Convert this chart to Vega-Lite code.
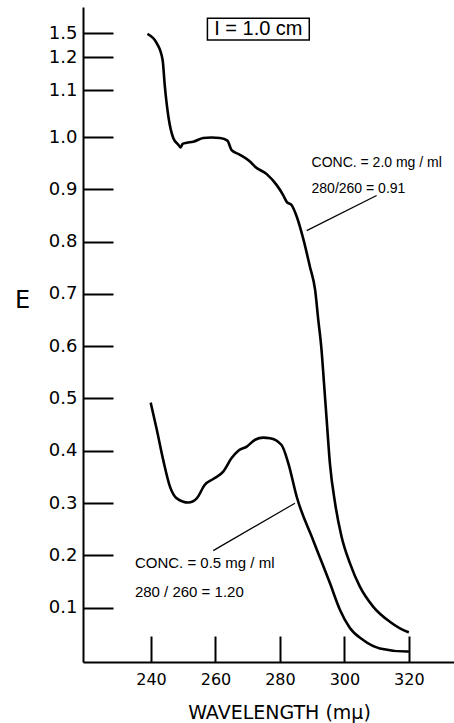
{
  "$schema": "https://vega.github.io/schema/vega-lite/v6.json",
  "width": 371,
  "height": 655,
  "autosize": {"type": "none"},
  "padding": {"left": 83, "top": 7, "right": 0, "bottom": 61},
  "background": "white",
  "config": {"view": {"stroke": null}, "font": "Liberation Sans"},
  "datasets": {
    "curves": [
      {"series": "2.0", "wl": 238.9, "E": 1.49},
      {"series": "2.0", "wl": 241.8, "E": 1.371},
      {"series": "2.0", "wl": 243.6, "E": 1.191},
      {"series": "2.0", "wl": 244.3, "E": 1.11},
      {"series": "2.0", "wl": 245.4, "E": 1.043},
      {"series": "2.0", "wl": 246.9, "E": 0.998},
      {"series": "2.0", "wl": 248.5, "E": 0.985},
      {"series": "2.0", "wl": 249.2, "E": 0.98},
      {"series": "2.0", "wl": 249.8, "E": 0.987},
      {"series": "2.0", "wl": 251.1, "E": 0.989},
      {"series": "2.0", "wl": 253.1, "E": 0.991},
      {"series": "2.0", "wl": 256.2, "E": 0.998},
      {"series": "2.0", "wl": 258.8, "E": 0.999},
      {"series": "2.0", "wl": 261.4, "E": 0.998},
      {"series": "2.0", "wl": 263.7, "E": 0.993},
      {"series": "2.0", "wl": 265.0, "E": 0.975},
      {"series": "2.0", "wl": 267.6, "E": 0.966},
      {"series": "2.0", "wl": 270.7, "E": 0.953},
      {"series": "2.0", "wl": 272.3, "E": 0.943},
      {"series": "2.0", "wl": 275.9, "E": 0.929},
      {"series": "2.0", "wl": 279.0, "E": 0.908},
      {"series": "2.0", "wl": 281.0, "E": 0.889},
      {"series": "2.0", "wl": 282.1, "E": 0.876},
      {"series": "2.0", "wl": 283.6, "E": 0.87},
      {"series": "2.0", "wl": 285.2, "E": 0.848},
      {"series": "2.0", "wl": 287.2, "E": 0.806},
      {"series": "2.0", "wl": 289.3, "E": 0.752},
      {"series": "2.0", "wl": 290.9, "E": 0.708},
      {"series": "2.0", "wl": 291.9, "E": 0.65},
      {"series": "2.0", "wl": 292.9, "E": 0.593},
      {"series": "2.0", "wl": 293.6, "E": 0.535},
      {"series": "2.0", "wl": 294.5, "E": 0.459},
      {"series": "2.0", "wl": 295.5, "E": 0.376},
      {"series": "2.0", "wl": 297.1, "E": 0.3},
      {"series": "2.0", "wl": 299.1, "E": 0.236},
      {"series": "2.0", "wl": 301.7, "E": 0.185},
      {"series": "2.0", "wl": 304.8, "E": 0.14},
      {"series": "2.0", "wl": 308.9, "E": 0.102},
      {"series": "2.0", "wl": 314.1, "E": 0.073},
      {"series": "2.0", "wl": 319.5, "E": 0.054},
      {"series": "2.0", "wl": 320.0, "E": 0.053},
      {"series": "0.5", "wl": 239.9, "E": 0.492},
      {"series": "0.5", "wl": 241.8, "E": 0.44},
      {"series": "0.5", "wl": 243.8, "E": 0.382},
      {"series": "0.5", "wl": 245.9, "E": 0.331},
      {"series": "0.5", "wl": 248.0, "E": 0.309},
      {"series": "0.5", "wl": 251.6, "E": 0.301},
      {"series": "0.5", "wl": 254.2, "E": 0.309},
      {"series": "0.5", "wl": 256.7, "E": 0.335},
      {"series": "0.5", "wl": 259.3, "E": 0.346},
      {"series": "0.5", "wl": 262.4, "E": 0.36},
      {"series": "0.5", "wl": 265.0, "E": 0.386},
      {"series": "0.5", "wl": 267.1, "E": 0.4},
      {"series": "0.5", "wl": 269.7, "E": 0.408},
      {"series": "0.5", "wl": 272.3, "E": 0.421},
      {"series": "0.5", "wl": 274.8, "E": 0.425},
      {"series": "0.5", "wl": 276.9, "E": 0.424},
      {"series": "0.5", "wl": 280.5, "E": 0.411},
      {"series": "0.5", "wl": 282.6, "E": 0.376},
      {"series": "0.5", "wl": 285.2, "E": 0.312},
      {"series": "0.5", "wl": 290.3, "E": 0.229},
      {"series": "0.5", "wl": 295.5, "E": 0.147},
      {"series": "0.5", "wl": 298.6, "E": 0.096},
      {"series": "0.5", "wl": 301.7, "E": 0.061},
      {"series": "0.5", "wl": 305.8, "E": 0.038},
      {"series": "0.5", "wl": 311.0, "E": 0.022},
      {"series": "0.5", "wl": 319.5, "E": 0.016},
      {"series": "0.5", "wl": 320.0, "E": 0.016}
    ],
    "leaders": [
      {"wl": 288.3, "E": 0.821, "wl2": 310.0, "E2": 0.888},
      {"wl": 259.3, "E": 0.209, "wl2": 284.65, "E2": 0.2996}
    ],
    "notes": [
      {"wl": 289.8, "E": 0.95, "label": "CONC. = 2.0 mg / ml", "size": 14},
      {"wl": 289.8, "E": 0.9, "label": "280/260 = 0.91", "size": 14},
      {"wl": 235.0, "E": 0.186, "label": "CONC. = 0.5 mg / ml", "size": 15},
      {"wl": 235.0, "E": 0.13, "label": "280 / 260  = 1.20", "size": 15}
    ],
    "box": [
      {"wl": 257.5, "wl2": 289.1, "E": 1.783, "E2": 1.4125, "label": "I = 1.0 cm", "mid": 273.3, "Emid": 1.577}
    ]
  },
  "encoding": {
    "x": {
      "field": "wl",
      "type": "quantitative",
      "scale": {"domain": [218.9, 334], "nice": false, "zero": false},
      "axis": {
        "title": "WAVELENGTH  (mμ)",
        "values": [240, 260, 280, 300, 320],
        "grid": false,
        "tickSize": -26,
        "tickWidth": 2,
        "tickColor": "black",
        "domainColor": "black",
        "domainWidth": 2,
        "labelFont": "DejaVu Sans",
        "labelFontSize": 16,
        "labelColor": "black",
        "labelPadding": 35,
        "labelFlush": false,
        "labelOverlap": false,
        "titleFont": "DejaVu Sans",
        "titleFontSize": 19,
        "titleFontWeight": "normal",
        "titleColor": "black",
        "titleX": 196,
        "titleY": 50,
        "titleAlign": "center",
        "titleBaseline": "middle"
      }
    },
    "y": {
      "field": "E",
      "type": "quantitative",
      "scale": {
        "domain": [-0.004, 1.0, 1.1, 1.2, 1.5, 2.0],
        "range": [655, 130, 83, 50, 26, 0],
        "nice": false,
        "zero": false
      },
      "axis": {
        "title": "E",
        "values": [0.1, 0.2, 0.3, 0.4, 0.5, 0.6, 0.7, 0.8, 0.9, 1.0, 1.1, 1.2, 1.5],
        "format": ".1f",
        "grid": false,
        "tickSize": -30,
        "tickWidth": 2,
        "tickColor": "black",
        "domainColor": "black",
        "domainWidth": 2,
        "labelFont": "DejaVu Sans",
        "labelFontSize": 18,
        "labelColor": "black",
        "labelPadding": 36,
        "labelFlush": false,
        "labelOverlap": false,
        "titleFont": "DejaVu Sans",
        "titleFontSize": 24,
        "titleFontWeight": "normal",
        "titleColor": "black",
        "titleAngle": 0,
        "titleX": -61,
        "titleY": 293,
        "titleAlign": "center",
        "titleBaseline": "middle"
      }
    }
  },
  "layer": [
    {
      "data": {"name": "curves"},
      "mark": {"type": "line", "interpolate": "monotone", "color": "black", "strokeWidth": 2.6},
      "encoding": {"detail": {"field": "series"}}
    },
    {
      "data": {"name": "leaders"},
      "mark": {"type": "rule", "color": "black", "strokeWidth": 1.2},
      "encoding": {"x2": {"field": "wl2"}, "y2": {"field": "E2"}}
    },
    {
      "data": {"name": "notes"},
      "mark": {"type": "text", "align": "left", "baseline": "middle", "color": "black"},
      "encoding": {"text": {"field": "label"}, "size": {"field": "size", "type": "quantitative", "scale": null}}
    },
    {
      "data": {"name": "box"},
      "mark": {"type": "rect", "fill": null, "stroke": "black", "strokeWidth": 1.5},
      "encoding": {"x2": {"field": "wl2"}, "y2": {"field": "E2"}}
    },
    {
      "data": {"name": "box"},
      "mark": {"type": "text", "align": "center", "baseline": "middle", "color": "black", "fontSize": 20},
      "encoding": {"x": {"field": "mid", "type": "quantitative"}, "y": {"field": "Emid", "type": "quantitative"}, "text": {"field": "label"}}
    }
  ]
}
